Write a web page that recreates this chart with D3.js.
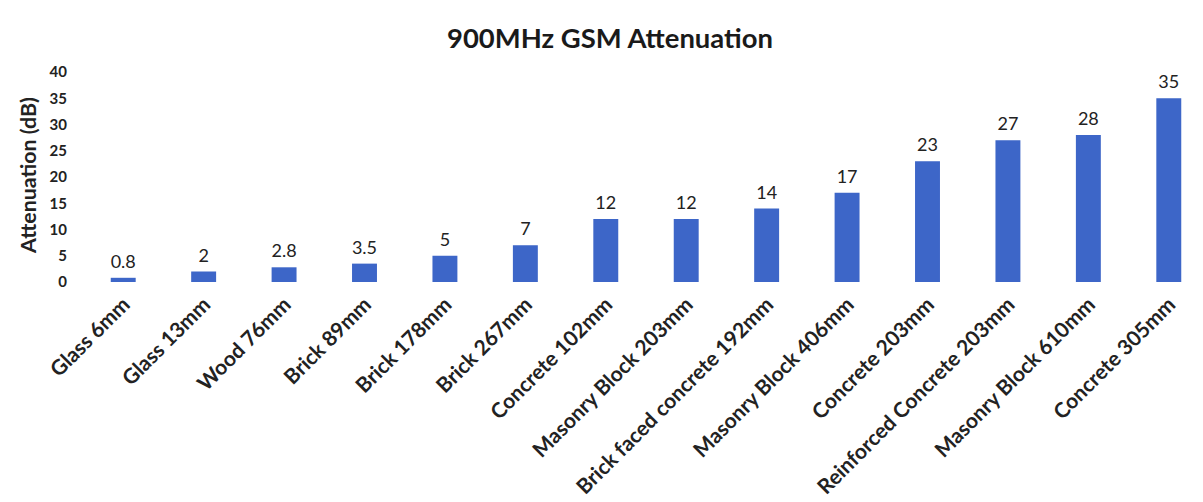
<!DOCTYPE html>
<html><head><meta charset="utf-8">
<script src="https://cdn.jsdelivr.net/npm/d3@7"></script>
<style>body{margin:0;background:#fff;}svg{display:block;}</style>
</head><body>
<svg id="chart" width="1203" height="502"></svg>
<script>
const categories = ["Glass 6mm","Glass 13mm","Wood 76mm","Brick 89mm","Brick 178mm","Brick 267mm","Concrete 102mm","Masonry Block 203mm","Brick faced concrete 192mm","Masonry Block 406mm","Concrete 203mm","Reinforced Concrete 203mm","Masonry Block 610mm","Concrete 305mm"];
const values = [0.8,2,2.8,3.5,5,7,12,12,14,17,23,27,28,35];
const valueLabels = ["0.8","2","2.8","3.5","5","7","12","12","14","17","23","27","28","35"];
const yTicks = [0,5,10,15,20,25,30,35,40];
const title = "900MHz GSM Attenuation";
const yTitle = "Attenuation (dB)";

const svg = d3.select("#chart");
const font = "Lato, 'Open Sans', sans-serif";
const x = d3.scaleBand().domain(categories).range([83, 1209]).paddingInner(0.69).paddingOuter(0.345);
const y = d3.scaleLinear().domain([0,40]).range([282, 72]);

function fitWidth(sel, target) {
  const fs = parseFloat(sel.attr("font-size"));
  const w = sel.node().getComputedTextLength();
  if (w > 0) sel.attr("font-size", fs * target / w);
}

const t = svg.append("text").attr("x", 610).attr("y", 48).attr("text-anchor","middle")
  .attr("font-family", font).attr("font-weight","bold").attr("font-size",24).attr("fill","#1a1a1a").text(title);
fitWidth(t, 326);

const yAxis = d3.axisLeft(y).tickValues(yTicks).tickSize(0).tickPadding(0);
const yg = svg.append("g").attr("transform","translate(67,0)").call(yAxis);
yg.select(".domain").remove();
yg.selectAll("text").attr("font-family", font).attr("font-weight","bold").attr("font-size",15).attr("fill","#222");

const yt = svg.append("text").attr("transform","translate(36,175) rotate(-90)").attr("text-anchor","middle")
  .attr("font-family", font).attr("font-weight","bold").attr("font-size",15).attr("fill","#222").text(yTitle);
fitWidth(yt, 156);

svg.selectAll("rect.bar").data(values).enter().append("rect").attr("class","bar")
  .attr("x",(d,i)=>x(categories[i])).attr("width",x.bandwidth())
  .attr("y",d=>y(d)).attr("height",d=>y(0)-y(d)).attr("fill","#3d66c8");

svg.selectAll("text.val").data(values).enter().append("text").attr("class","val")
  .attr("x",(d,i)=>x(categories[i])+x.bandwidth()/2).attr("y",d=>y(d)-10)
  .attr("text-anchor","middle").attr("font-family",font).attr("font-size",18).attr("fill","#222")
  .text((d,i)=>valueLabels[i]);

const xAxis = d3.axisBottom(x).tickSize(0).tickPadding(0);
const xg = svg.append("g").attr("transform","translate(0,282)").call(xAxis);
xg.select(".domain").remove();
const xl = xg.selectAll("text").attr("font-family",font).attr("font-weight","bold").attr("font-size",16).attr("fill","#222")
  .attr("text-anchor","end").attr("dy",0)
  .attr("transform","translate(8,24) rotate(-45)");
// size all labels so the longest one matches the reference length
const longest = xl.filter(d => d === "Brick faced concrete 192mm");
const fs0 = 16, w0 = longest.node().getComputedTextLength();
xl.attr("font-size", fs0 * 268 / w0);
</script>
</body></html>
